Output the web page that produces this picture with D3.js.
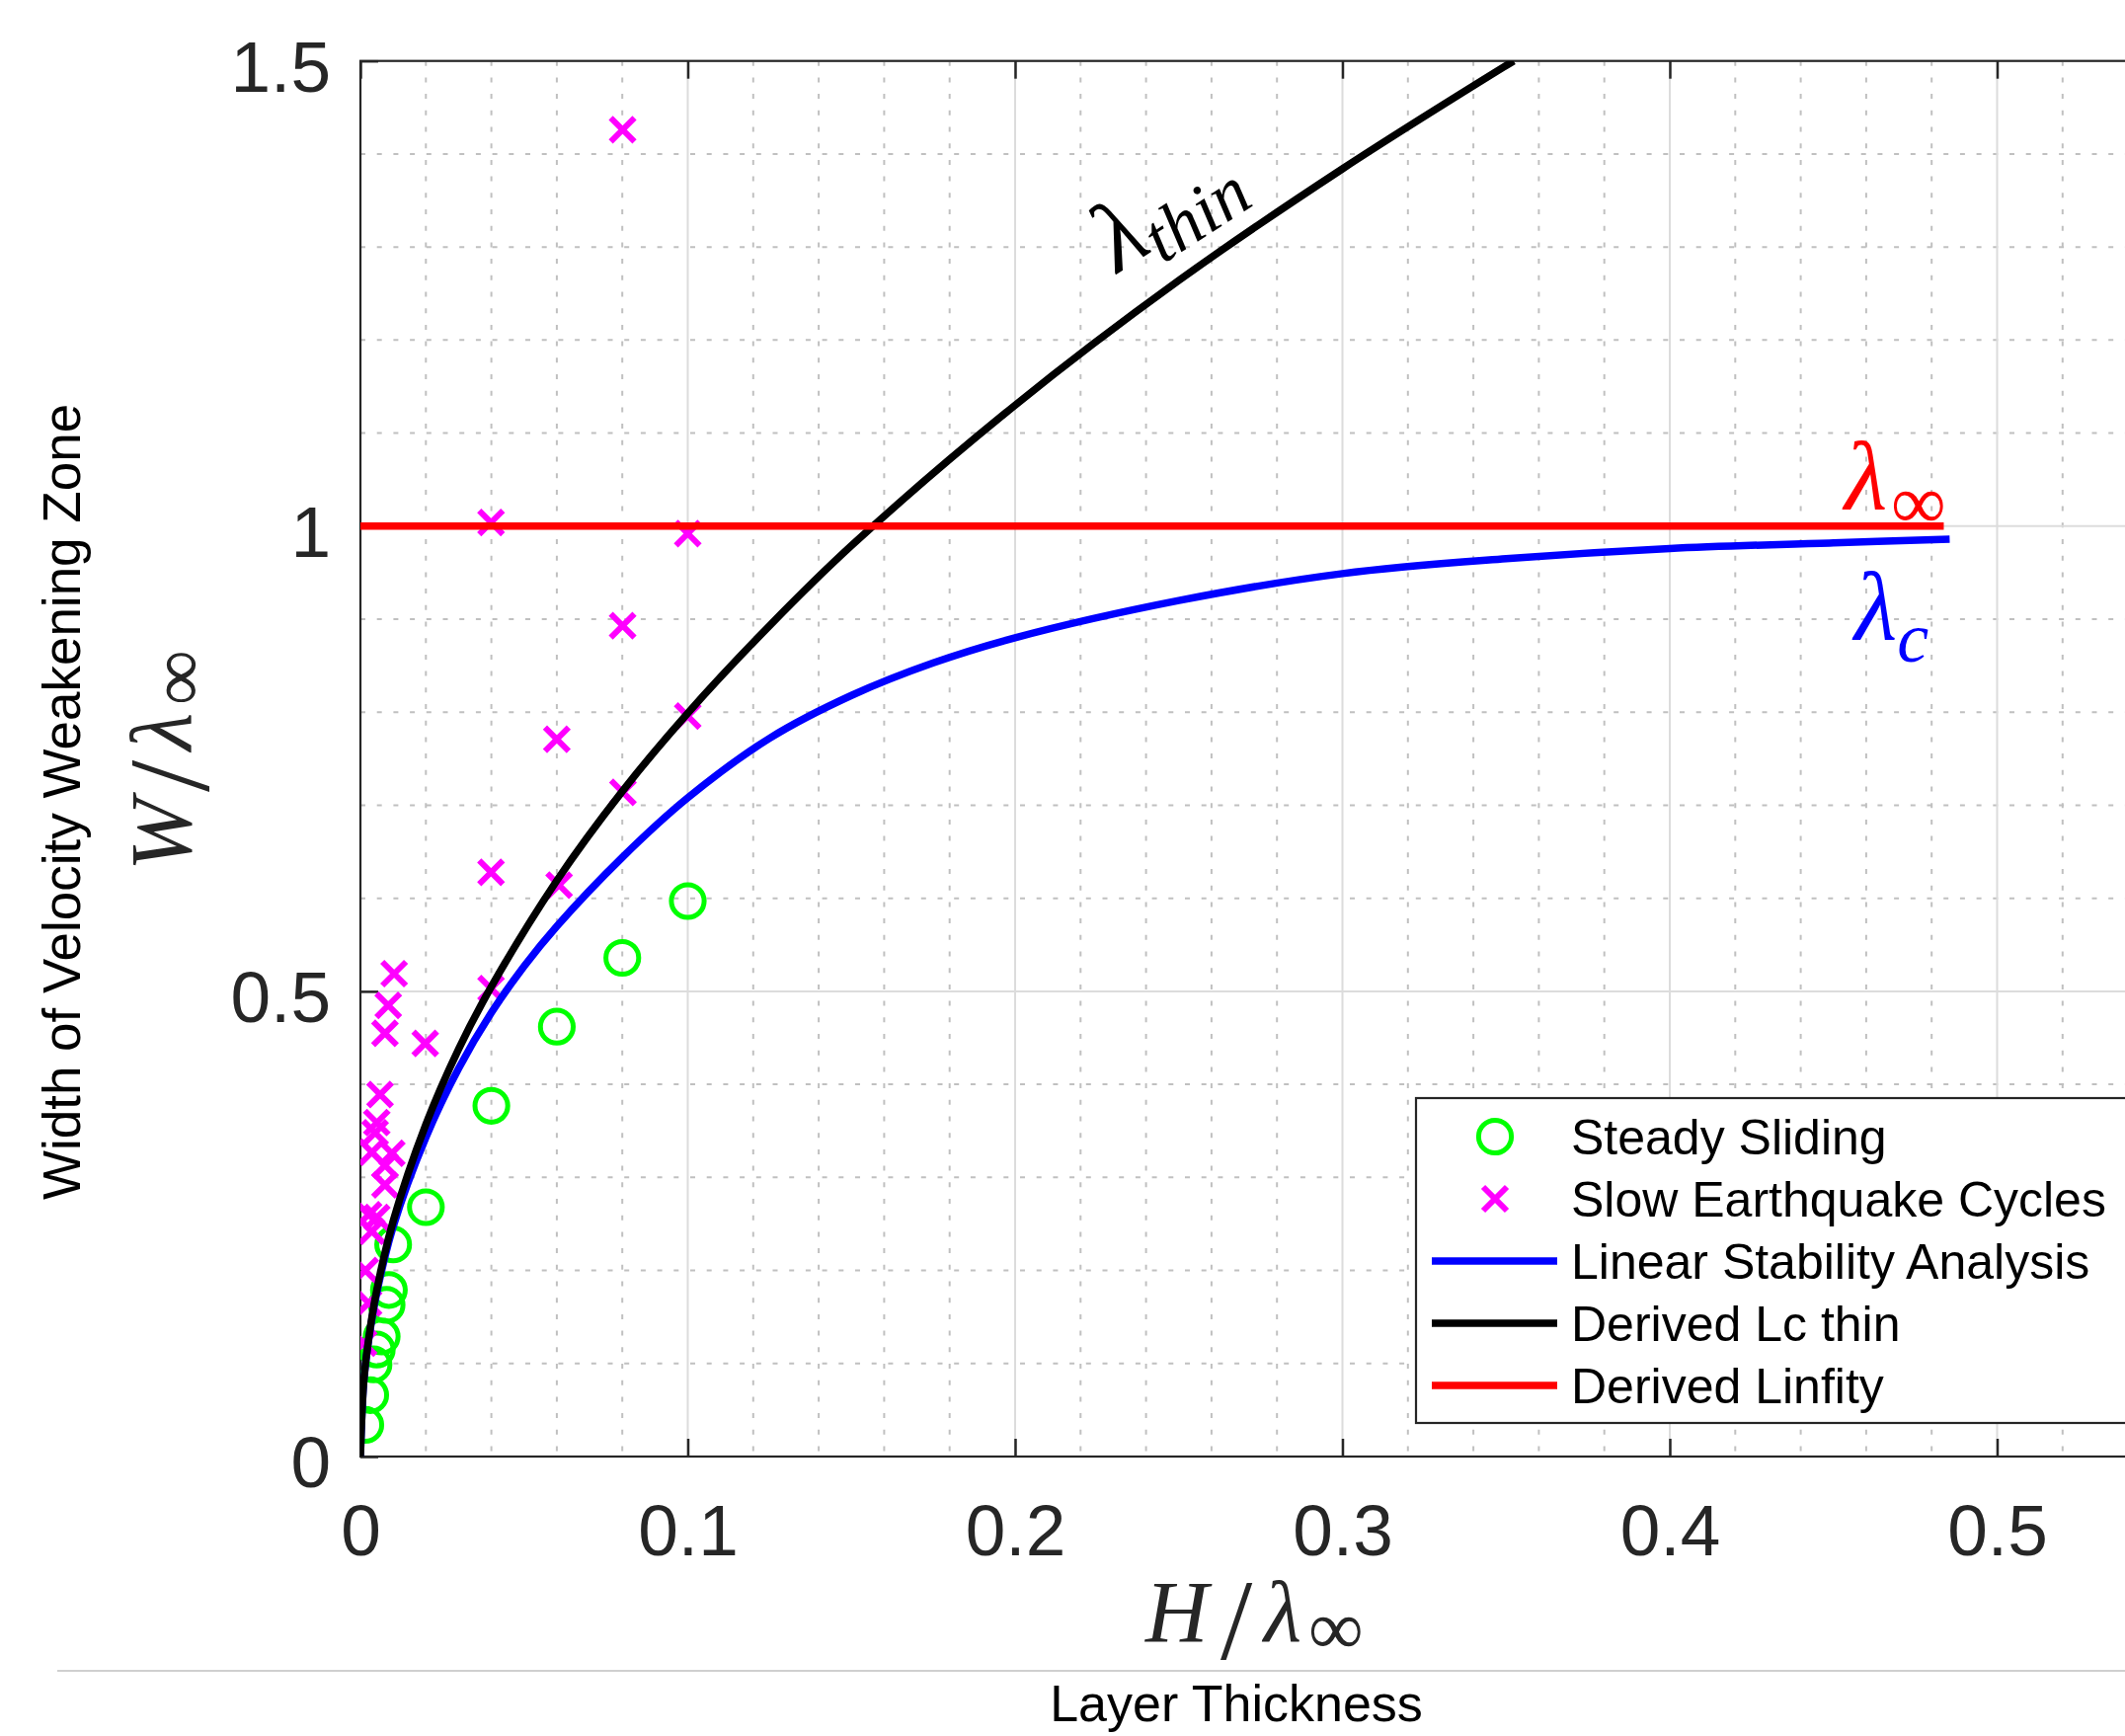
<!DOCTYPE html>
<html>
<head>
<meta charset="utf-8">
<script src="https://cdn.jsdelivr.net/npm/d3@7"></script>
<style>
  body { margin: 0; background: #fff; }
  svg { display: block; }
</style>
</head>
<body>
<div id="chart"></div>
<script>
// values

var xTicks = [0, 0.1, 0.2, 0.3, 0.4, 0.5];
var xTickLabels = ["0", "0.1", "0.2", "0.3", "0.4", "0.5"];
var yTicks = [0, 0.5, 1, 1.5];
var yTickLabels = ["0", "0.5", "1", "1.5"];

// steady sliding (green circles)
var steadyH = [0.0015, 0.003, 0.004, 0.005, 0.0065, 0.008, 0.0087, 0.010, 0.020, 0.040, 0.060, 0.080, 0.100];
var steadyW = [0.034, 0.066, 0.099, 0.115, 0.129, 0.163, 0.179, 0.228, 0.268, 0.377, 0.462, 0.536, 0.597];

// slow earthquake cycles (magenta crosses)
var slowH = [0.0010, 0.0025, 0.0015, 0.0035, 0.0050, 0.0025, 0.0075, 0.0075, 0.0096, 0.0035, 0.0045, 0.0050, 0.0060, 0.0198,
             0.0075, 0.0085, 0.0103, 0.0399, 0.0607, 0.0399, 0.0802, 0.0600, 0.1000, 0.0801, 0.0399, 0.1000, 0.0801];
var slowW = [0.122, 0.165, 0.200, 0.242, 0.257, 0.260, 0.292, 0.313, 0.326, 0.327, 0.348, 0.359, 0.389, 0.444,
             0.455, 0.485, 0.519, 0.503, 0.614, 0.628, 0.714, 0.771, 0.796, 0.893, 1.004, 0.992, 1.426];

// linear stability analysis (blue)
var lscH = [0, 0.001, 0.0025, 0.005, 0.01, 0.02, 0.03, 0.04, 0.05, 0.06, 0.08, 0.1, 0.125, 0.15, 0.175, 0.2, 0.25, 0.3, 0.35, 0.4, 0.45, 0.4855];
var lscW = [0, 0.079, 0.125, 0.176, 0.247, 0.343, 0.417, 0.477, 0.527, 0.570, 0.644, 0.708, 0.772, 0.818, 0.853, 0.880, 0.920, 0.949, 0.965, 0.976, 0.982, 0.986];

// derived Lc thin (black)
var thinH = [0, 0.001, 0.0025, 0.005, 0.01, 0.02, 0.03, 0.04, 0.06, 0.08, 0.1, 0.125, 0.15, 0.2, 0.25, 0.3, 0.3523];
var thinW = [0, 0.080, 0.126, 0.179, 0.253, 0.357, 0.438, 0.505, 0.619, 0.715, 0.799, 0.893, 0.979, 1.130, 1.264, 1.384, 1.500];

// derived L infinity (red)
var infH = [0, 0.4837];
var infW = [1, 1];

var legendLabels = ["Steady Sliding", "Slow Earthquake Cycles", "Linear Stability Analysis", "Derived Lc thin", "Derived Linfity"];

var width = 2152, height = 1758;

var svg = d3.select("#chart").append("svg")
    .attr("width", width)
    .attr("height", height);

svg.append("rect").attr("width", width).attr("height", height).attr("fill", "#fff");

var x = d3.scaleLinear().domain([0, 0.55]).range([365, 365 + 0.55 * 3315]);
var y = d3.scaleLinear().domain([0, 1.5]).range([1475, 61.7]);

var sans = "'Liberation Sans', Arial, Helvetica, sans-serif";
var serif = "'Liberation Serif', 'Times New Roman', serif";
var axisColor = "#262626";

svg.append("clipPath").attr("id", "plot-clip")
    .append("rect")
    .attr("x", x(0)).attr("y", y(1.5))
    .attr("width", x(0.55) - x(0)).attr("height", y(0) - y(1.5));

// grid
var grid = svg.append("g").attr("clip-path", "url(#plot-clip)");

var minorX = d3.range(1, 28).map(function(i) { return i * 0.02; }).filter(function(v, i) { return (i + 1) % 5 != 0; });
var minorY = d3.range(1, 15).map(function(i) { return i * 0.1; }).filter(function(v, i) { return (i + 1) % 5 != 0; });

grid.selectAll(".minor-x").data(minorX).enter().append("line")
    .attr("x1", function(d) { return x(d); }).attr("x2", function(d) { return x(d); })
    .attr("y1", y(1.5)).attr("y2", y(0))
    .attr("stroke", "#c0c0c0").attr("stroke-width", 2).attr("stroke-dasharray", "5,11.7");

grid.selectAll(".minor-y").data(minorY).enter().append("line")
    .attr("y1", function(d) { return y(d); }).attr("y2", function(d) { return y(d); })
    .attr("x1", x(0)).attr("x2", x(0.55))
    .attr("stroke", "#c0c0c0").attr("stroke-width", 2).attr("stroke-dasharray", "5,11.7");

grid.selectAll(".major-x").data(xTicks).enter().append("line")
    .attr("x1", function(d) { return x(d); }).attr("x2", function(d) { return x(d); })
    .attr("y1", y(1.5)).attr("y2", y(0))
    .attr("stroke", "#dcdcdc").attr("stroke-width", 2);

grid.selectAll(".major-y").data(yTicks).enter().append("line")
    .attr("y1", function(d) { return y(d); }).attr("y2", function(d) { return y(d); })
    .attr("x1", x(0)).attr("x2", x(0.55))
    .attr("stroke", "#dcdcdc").attr("stroke-width", 2);

// axes: ticks inside, box round the plot
var xAxisB = d3.axisBottom(x).tickValues(xTicks).tickSize(-18).tickPadding(48)
    .tickFormat(function(d, i) { return xTickLabels[i]; });
var xAxisT = d3.axisTop(x).tickValues(xTicks).tickSize(-18).tickFormat("");
var yAxisL = d3.axisLeft(y).tickValues(yTicks).tickSize(-18).tickPadding(30)
    .tickFormat(function(d, i) { return yTickLabels[i]; });

var gxb = svg.append("g").attr("transform", "translate(0," + y(0) + ")").call(xAxisB);
var gxt = svg.append("g").attr("transform", "translate(0," + y(1.5) + ")").call(xAxisT);
var gyl = svg.append("g").attr("transform", "translate(" + x(0) + ",0)").call(yAxisL);

[gxb, gxt, gyl].forEach(function(g) {
    g.select(".domain").remove();
    g.selectAll(".tick line").attr("stroke", axisColor).attr("stroke-width", 2.5);
    g.selectAll(".tick text")
        .attr("fill", axisColor)
        .style("font-family", sans)
        .style("font-size", "73px");
});
gyl.selectAll(".tick text").attr("dy", "0.417em");

svg.append("rect")
    .attr("x", x(0)).attr("y", y(1.5))
    .attr("width", x(0.55) - x(0)).attr("height", y(0) - y(1.5))
    .attr("fill", "none").attr("stroke", axisColor).attr("stroke-width", 2.2);

// data
var plot = svg.append("g").attr("clip-path", "url(#plot-clip)");

function crossPath(r) {
    return "M" + (-r) + "," + (-r) + "L" + r + "," + r + "M" + (-r) + "," + r + "L" + r + "," + (-r);
}

plot.selectAll(".steady").data(d3.zip(steadyH, steadyW)).enter().append("circle")
    .attr("cx", function(d) { return x(d[0]); })
    .attr("cy", function(d) { return y(d[1]); })
    .attr("r", 16.6)
    .attr("fill", "none").attr("stroke", "#00ff00").attr("stroke-width", 5);

plot.selectAll(".slow").data(d3.zip(slowH, slowW)).enter().append("path")
    .attr("transform", function(d) { return "translate(" + x(d[0]) + "," + y(d[1]) + ")"; })
    .attr("d", crossPath(12))
    .attr("fill", "none").attr("stroke", "#ff00ff").attr("stroke-width", 6);

var line = d3.line()
    .curve(d3.curveCatmullRom.alpha(0.5))
    .x(function(d) { return x(d[0]); })
    .y(function(d) { return y(d[1]); });

var curves = [
    { h: lscH, w: lscW, color: "#0000ff" },
    { h: thinH, w: thinW, color: "#000000" },
    { h: infH, w: infW, color: "#ff0000" }
];

plot.selectAll(".curve").data(curves).enter().append("path")
    .attr("d", function(d) { return line(d3.zip(d.h, d.w)); })
    .attr("fill", "none")
    .attr("stroke", function(d) { return d.color; })
    .attr("stroke-width", 7.5);

// curve annotations
var thinLab = svg.append("text")
    .attr("transform", "translate(1132,277) rotate(-33)")
    .style("font-family", serif).style("font-style", "italic")
    .style("font-size", "100px").attr("fill", "#000");
thinLab.append("tspan").text("λ");
thinLab.append("tspan").attr("dy", 17).style("font-size", "72px").text("thin");

var infLab = svg.append("text")
    .attr("x", 1868).attr("y", 516)
    .style("font-family", serif).style("font-style", "italic")
    .style("font-size", "100px").attr("fill", "#ff0000");
infLab.append("tspan").text("λ");
infLab.append("tspan").attr("x", 1915).attr("dy", 19).style("font-size", "78px").style("font-style", "normal").text("∞");

var cLab = svg.append("text")
    .attr("x", 1878).attr("y", 648)
    .style("font-family", serif).style("font-style", "italic")
    .style("font-size", "100px").attr("fill", "#0000ff");
cLab.append("tspan").text("λ");
cLab.append("tspan").attr("dy", 22).style("font-size", "72px").text("c");

// axis labels (math set glyph by glyph, like the LaTeX original)
var xLab = svg.append("text")
    .attr("y", 1662)
    .style("font-family", serif).style("font-size", "88px").attr("fill", "#262626");
xLab.append("tspan").attr("x", 1160).style("font-style", "italic").text("H");
xLab.append("tspan").attr("x", 1236).attr("dy", 18).style("font-size", "116px").text("/");
xLab.append("tspan").attr("x", 1280).attr("dy", -18).style("font-style", "italic").text("λ");
xLab.append("tspan").attr("x", 1325).attr("dy", 13).style("font-size", "78px").text("∞");

var yLab = svg.append("g").attr("transform", "translate(193,882) rotate(-90)")
    .append("text")
    .style("font-family", serif).style("font-size", "88px").attr("fill", "#262626");
yLab.append("tspan").attr("x", 0).style("font-style", "italic").text("W");
yLab.append("tspan").attr("x", 80).attr("dy", 18).style("font-size", "116px").text("/");
yLab.append("tspan").attr("x", 122).attr("dy", -18).style("font-style", "italic").text("λ");
yLab.append("tspan").attr("x", 168).attr("dy", 13).style("font-size", "78px").text("∞");

svg.append("text")
    .attr("transform", "translate(81,812) rotate(-90)")
    .attr("text-anchor", "middle")
    .style("font-family", sans).style("font-size", "53px").attr("fill", "#000")
    .text("Width of Velocity Weakening Zone");

svg.append("line")
    .attr("x1", 58).attr("x2", width).attr("y1", 1692).attr("y2", 1692)
    .attr("stroke", "#cfcfcf").attr("stroke-width", 2);

svg.append("text")
    .attr("x", 1252).attr("y", 1743)
    .attr("text-anchor", "middle")
    .style("font-family", sans).style("font-size", "52px").attr("fill", "#000")
    .text("Layer Thickness");

// legend
var legend = svg.append("g");
legend.append("rect")
    .attr("x", 1434).attr("y", 1112).attr("width", 800).attr("height", 329)
    .attr("fill", "#fff").attr("stroke", axisColor).attr("stroke-width", 2.2);

var rowY = d3.scalePoint().domain(legendLabels).range([1151, 1403]);

legend.append("circle")
    .attr("cx", 1514).attr("cy", rowY(legendLabels[0])).attr("r", 16.6)
    .attr("fill", "none").attr("stroke", "#00ff00").attr("stroke-width", 5);
legend.append("path")
    .attr("transform", "translate(1514," + rowY(legendLabels[1]) + ")")
    .attr("d", crossPath(12))
    .attr("fill", "none").attr("stroke", "#ff00ff").attr("stroke-width", 6);
curves.forEach(function(c, i) {
    legend.append("line")
        .attr("x1", 1450).attr("x2", 1577)
        .attr("y1", rowY(legendLabels[i + 2])).attr("y2", rowY(legendLabels[i + 2]))
        .attr("stroke", c.color).attr("stroke-width", 7.5);
});

legend.selectAll(".legend-text").data(legendLabels).enter().append("text")
    .attr("x", 1591)
    .attr("y", function(d) { return rowY(d); })
    .attr("dy", "0.36em")
    .style("font-family", sans).style("font-size", "50px").attr("fill", "#000")
    .text(function(d) { return d; });
</script>
</body>
</html>
